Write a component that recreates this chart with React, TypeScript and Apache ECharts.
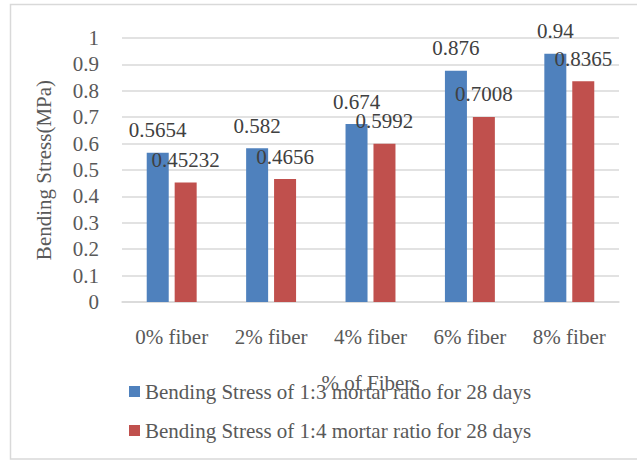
import React, { useEffect, useRef } from "react";
import * as echarts from "echarts";

// Fibre content groups along the x axis
const categories = ["0% fiber", "2% fiber", "4% fiber", "6% fiber", "8% fiber"];

// Bending stress (MPa) at 28 days for each mortar ratio
const ratio13 = [0.5654, 0.582, 0.674, 0.876, 0.94];
const ratio14 = [0.45232, 0.4656, 0.5992, 0.7008, 0.8365];

const seriesNames = [
  "Bending Stress of 1:3 mortar ratio for 28 days",
  "Bending Stress of 1:4 mortar ratio for 28 days",
];

const yTickLabels = ["0", "0.1", "0.2", "0.3", "0.4", "0.5", "0.6", "0.7", "0.8", "0.9", "1"];

const FONT = "'Liberation Serif', 'Times New Roman', serif";
const AXIS_TEXT = "#595959";
const LABEL_TEXT = "#404040";
const GRID = "#D9D9D9";

export default function App() {
  const ref = useRef<HTMLDivElement>(null);

  useEffect(() => {
    if (!ref.current) return;
    const chart = echarts.init(ref.current, undefined, { renderer: "svg" });

    const labelStyle = {
      show: true,
      position: "top" as const,
      distance: 12,
      color: LABEL_TEXT,
      fontFamily: FONT,
      fontSize: 21,
    };

    chart.setOption({
      animation: false,
      backgroundColor: "#ffffff",
      textStyle: { fontFamily: FONT },
      graphic: [
        {
          type: "rect",
          shape: { x: 10.5, y: 4.5, width: 640, height: 454.5 },
          style: { fill: "none", stroke: GRID, lineWidth: 1.5 },
          silent: true,
          z: -1,
        },
      ],
      grid: { left: 122, top: 38, right: 18, bottom: 159, containLabel: false },
      legend: {
        orient: "vertical",
        left: 129,
        top: 381,
        padding: 0,
        itemWidth: 11,
        itemHeight: 11,
        itemGap: 18,
        icon: "rect",
        data: seriesNames,
        textStyle: {
          color: AXIS_TEXT,
          fontFamily: FONT,
          fontSize: 21,
          lineHeight: 21,
        },
      },
      xAxis: {
        type: "category",
        data: categories,
        name: "% of Fibers",
        nameLocation: "middle",
        nameGap: 70,
        nameTextStyle: { color: AXIS_TEXT, fontFamily: FONT, fontSize: 21 },
        axisLine: { show: true, lineStyle: { color: GRID, width: 1.5 } },
        axisTick: { show: false },
        axisLabel: { color: AXIS_TEXT, fontFamily: FONT, fontSize: 21, margin: 24 },
      },
      yAxis: {
        type: "value",
        min: 0,
        max: 1,
        interval: 0.1,
        name: "Bending Stress(MPa)",
        nameLocation: "middle",
        nameRotate: 90,
        nameGap: 68,
        nameTextStyle: { color: AXIS_TEXT, fontFamily: FONT, fontSize: 21 },
        axisLine: { show: false },
        axisTick: { show: false },
        splitLine: { lineStyle: { color: GRID, width: 1.5 } },
        axisLabel: {
          color: AXIS_TEXT,
          fontFamily: FONT,
          fontSize: 21,
          margin: 23,
          formatter: (v: number) => yTickLabels[Math.round(v * 10)] ?? String(v),
        },
      },
      series: [
        {
          name: seriesNames[0],
          type: "bar",
          data: ratio13,
          barWidth: 22,
          barGap: "27%",
          itemStyle: { color: "#4F81BD" },
          label: labelStyle,
        },
        {
          name: seriesNames[1],
          type: "bar",
          data: ratio14,
          barWidth: 22,
          barGap: "27%",
          itemStyle: { color: "#C0504D" },
          label: labelStyle,
        },
      ],
    });

    return () => chart.dispose();
  }, []);

  return (
    <div
      ref={ref}
      style={{ position: "fixed", left: 0, top: 0, width: 637, height: 461 }}
    />
  );
}
